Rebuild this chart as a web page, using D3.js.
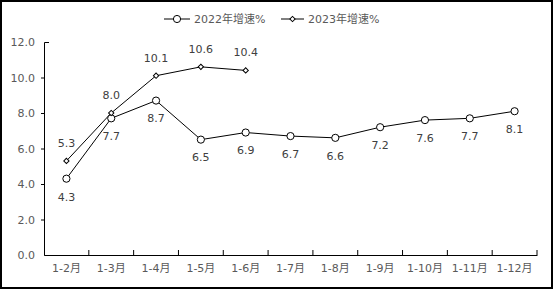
<!DOCTYPE html>
<html>
<head>
<meta charset="utf-8">
<script src="https://cdn.jsdelivr.net/npm/d3@7"></script>
<style>
  body { margin: 0; background: #fff; }
  text { font-family: "DejaVu Sans", "Noto Sans CJK SC", sans-serif; }
</style>
</head>
<body>
<svg id="chart" width="554" height="290"></svg>
<script>
var months = ["1-2月", "1-3月", "1-4月", "1-5月", "1-6月", "1-7月", "1-8月", "1-9月", "1-10月", "1-11月", "1-12月"];
var growth2022 = [4.3, 7.7, 8.7, 6.5, 6.9, 6.7, 6.6, 7.2, 7.6, 7.7, 8.1];
var growth2023 = [5.3, 8.0, 10.1, 10.6, 10.4];
var yTicks = [0, 2, 4, 6, 8, 10, 12];
var seriesNames = ["2022年增速%", "2023年增速%"];

(function () {
    var svg = d3.select("#chart"),
        margin = {top: 42, right: 17, bottom: 35, left: 44},
        width = +svg.attr("width") - margin.left - margin.right,
        height = +svg.attr("height") - margin.top - margin.bottom;

    var textColor = "#595959";

    // frame around the picture
    svg.append("rect")
        .attr("x", 1).attr("y", 1)
        .attr("width", 551).attr("height", 287)
        .attr("fill", "none")
        .attr("stroke", "#000")
        .attr("stroke-width", 2);

    var x = d3.scaleBand().domain(months).range([0, width]),
        y = d3.scaleLinear().domain([0, 12]).range([height, 0]);

    var g = svg.append("g")
        .attr("transform", "translate(" + margin.left + "," + margin.top + ")");

    // y axis
    var yAxis = g.append("g")
        .attr("class", "axis axis--y")
        .call(d3.axisLeft(y).tickValues(yTicks).tickFormat(d3.format(".1f"))
            .tickSizeInner(3).tickSizeOuter(-5).tickPadding(6));
    yAxis.select(".domain").attr("stroke", "#000");
    yAxis.selectAll(".tick line")
        .attr("stroke", "#000")
        .attr("opacity", function (d) { return (d === 0 || d === 12) ? 0 : 1; });
    yAxis.selectAll(".tick text")
        .attr("fill", textColor)
        .style("font-size", "11px");

    // x axis, ticks between categories
    var xAxis = g.append("g")
        .attr("class", "axis axis--x")
        .attr("transform", "translate(0," + height + ")")
        .call(d3.axisBottom(x).tickSize(0).tickPadding(9));
    xAxis.select(".domain").attr("stroke", "#000");
    xAxis.selectAll(".tick text")
        .attr("fill", textColor)
        .style("font-size", "11px");
    xAxis.selectAll(".sep")
        .data(months)
        .enter().append("line")
        .attr("class", "sep")
        .attr("x1", function (d) { return x(d) + x.bandwidth(); })
        .attr("x2", function (d) { return x(d) + x.bandwidth(); })
        .attr("y1", 0).attr("y2", -5)
        .attr("stroke", "#000");

    var cx = function (d, i) { return x(months[i]) + x.bandwidth() / 2; };

    var line = d3.line()
        .x(function (d, i) { return x(months[i]) + x.bandwidth() / 2; })
        .y(function (d) { return y(d); });

    // 2022 series
    g.append("path")
        .datum(growth2022)
        .attr("fill", "none")
        .attr("stroke", "#000")
        .attr("stroke-width", 1)
        .attr("d", line);

    // 2023 series
    g.append("path")
        .datum(growth2023)
        .attr("fill", "none")
        .attr("stroke", "#000")
        .attr("stroke-width", 1)
        .attr("d", line);

    g.selectAll(".pt22")
        .data(growth2022)
        .enter().append("circle")
        .attr("class", "pt22")
        .attr("cx", cx)
        .attr("cy", function (d) { return y(d); })
        .attr("r", 3.6)
        .attr("fill", "#fff")
        .attr("stroke", "#000");

    var diamond = d3.symbol().type(d3.symbolSquare).size(14);
    g.selectAll(".pt23")
        .data(growth2023)
        .enter().append("path")
        .attr("class", "pt23")
        .attr("d", diamond)
        .attr("transform", function (d, i) {
            return "translate(" + cx(d, i) + "," + y(d) + ") rotate(45)";
        })
        .attr("fill", "#fff")
        .attr("stroke", "#000");

    // value labels
    g.selectAll(".lab22")
        .data(growth2022)
        .enter().append("text")
        .attr("class", "lab22")
        .attr("x", cx)
        .attr("y", function (d) { return y(d) + 18; })
        .attr("dy", "0.35em")
        .attr("text-anchor", "middle")
        .attr("fill", "#404040")
        .style("font-size", "11px")
        .text(function (d) { return d.toFixed(1); });

    g.selectAll(".lab23")
        .data(growth2023)
        .enter().append("text")
        .attr("class", "lab23")
        .attr("x", cx)
        .attr("y", function (d) { return y(d) - 18; })
        .attr("dy", "0.35em")
        .attr("text-anchor", "middle")
        .attr("fill", "#404040")
        .style("font-size", "11px")
        .text(function (d) { return d.toFixed(1); });

    // legend
    var legend = svg.append("g").attr("transform", "translate(0,19)");
    var legendX = [164, 281];
    seriesNames.forEach(function (name, i) {
        var item = legend.append("g").attr("transform", "translate(" + legendX[i] + ",0)");
        item.append("line")
            .attr("x1", 0).attr("x2", i === 0 ? 26 : 23)
            .attr("y1", 0).attr("y2", 0)
            .attr("stroke", "#000");
        var mx = i === 0 ? 13 : 11.5;
        if (i === 0) {
            item.append("circle").attr("cx", mx).attr("cy", 0).attr("r", 3.6)
                .attr("fill", "#fff").attr("stroke", "#000");
        } else {
            item.append("path").attr("d", diamond)
                .attr("transform", "translate(" + mx + ",0) rotate(45)")
                .attr("fill", "#fff").attr("stroke", "#000");
        }
        item.append("text")
            .attr("x", i === 0 ? 30 : 27)
            .attr("dy", "0.35em")
            .attr("fill", textColor)
            .style("font-size", "11px")
            .text(name);
    });
})();
</script>
</body>
</html>
